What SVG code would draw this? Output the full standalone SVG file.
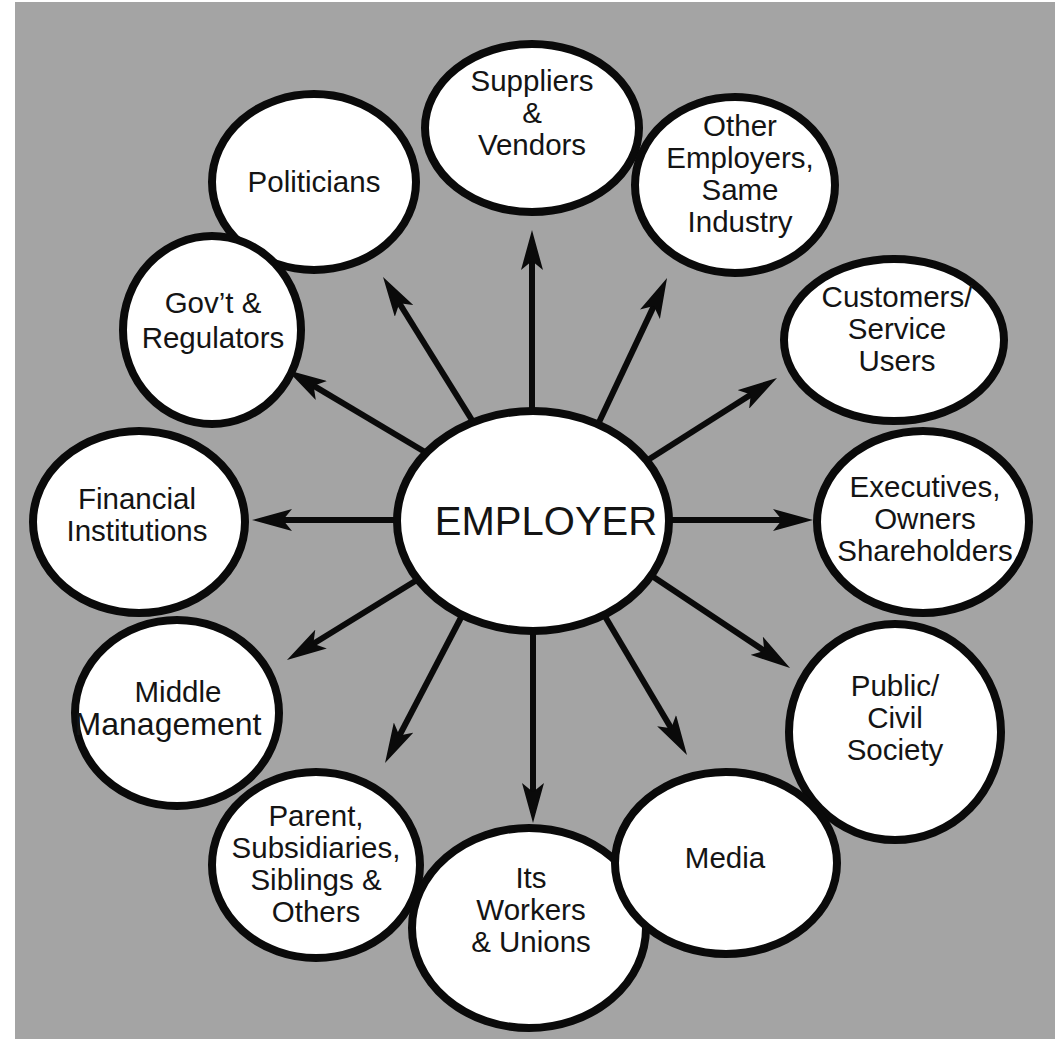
<svg xmlns="http://www.w3.org/2000/svg" width="1064" height="1039" viewBox="0 0 1064 1039">
<style>
.n{fill:#fff;stroke:#0a0a0a;stroke-width:8}
.t{font-family:"Liberation Sans",Arial,Helvetica,sans-serif;font-size:29.5px;fill:#141414;text-anchor:middle}
.big{font-size:40px}
.mm{font-size:32px}
.a{stroke:#0a0a0a;stroke-width:6;fill:none;marker-end:url(#ah)}
</style>
<defs>
<marker id="ah" viewBox="0 0 40 22" markerUnits="userSpaceOnUse" markerWidth="40" markerHeight="22" refX="20" refY="11" orient="auto">
<path d="M0,0 L40,11 L0,22 L9,11 Z" fill="#0a0a0a"/>
</marker>
</defs>
<rect x="0" y="0" width="1064" height="1039" fill="#fff"/>
<rect x="15" y="2" width="1040" height="1037" fill="#a4a4a4"/>
<g id="connectors">
<line class="a" x1="532" y1="430" x2="532" y2="250"/>
<line class="a" x1="480" y1="433" x2="393.6" y2="294"/>
<line class="a" x1="430" y1="455" x2="304.2" y2="380.2"/>
<line class="a" x1="410" y1="520" x2="272" y2="520"/>
<line class="a" x1="425" y1="575" x2="304" y2="649.5"/>
<line class="a" x1="466" y1="608" x2="394.3" y2="745.3"/>
<line class="a" x1="533" y1="615" x2="533" y2="803"/>
<line class="a" x1="600" y1="608" x2="676.8" y2="737.8"/>
<line class="a" x1="640" y1="568" x2="773.4" y2="656.9"/>
<line class="a" x1="655" y1="520" x2="793" y2="520"/>
<line class="a" x1="640" y1="465" x2="760.1" y2="388.7"/>
<line class="a" x1="592" y1="437" x2="658.5" y2="296.1"/>
</g>
<g id="employer">
<ellipse class="n" cx="533" cy="521" rx="136" ry="110" stroke-width="7"/>
<text class="t big" x="546" y="535">EMPLOYER</text>
</g>
<g id="suppliers">
<ellipse class="n" cx="532" cy="128" rx="107" ry="84"/>
<text class="t" x="532" y="91">Suppliers</text>
<text class="t" x="532" y="123">&amp;</text>
<text class="t" x="532" y="155">Vendors</text>
</g>
<g id="politicians">
<ellipse class="n" cx="314" cy="182" rx="102" ry="88"/>
<text class="t" x="314" y="192">Politicians</text>
</g>
<g id="other-employers">
<ellipse class="n" cx="735" cy="185" rx="100" ry="88"/>
<text class="t" x="740" y="136">Other</text>
<text class="t" x="740" y="168">Employers,</text>
<text class="t" x="740" y="200">Same</text>
<text class="t" x="740" y="232">Industry</text>
</g>
<g id="govt">
<ellipse class="n" cx="212" cy="330" rx="89" ry="94"/>
<text class="t" x="213" y="313">Gov’t &amp;</text>
<text class="t" x="213" y="348">Regulators</text>
</g>
<g id="customers">
<ellipse class="n" cx="894" cy="340" rx="110" ry="81"/>
<text class="t" x="897" y="307">Customers/</text>
<text class="t" x="897" y="339">Service</text>
<text class="t" x="897" y="371">Users</text>
</g>
<g id="financial">
<ellipse class="n" cx="139" cy="522" rx="106" ry="91"/>
<text class="t" x="137" y="509">Financial</text>
<text class="t" x="137" y="541">Institutions</text>
</g>
<g id="executives">
<ellipse class="n" cx="923" cy="522" rx="106" ry="91"/>
<text class="t" x="925" y="497">Executives,</text>
<text class="t" x="925" y="529">Owners</text>
<text class="t" x="925" y="561">Shareholders</text>
</g>
<g id="middle">
<ellipse class="n" cx="177" cy="713" rx="102" ry="93"/>
<text class="t" x="178" y="702">Middle</text>
<text class="t mm" x="168" y="735">Management</text>
</g>
<g id="public">
<ellipse class="n" cx="895" cy="732" rx="106" ry="108"/>
<text class="t" x="895" y="696">Public/</text>
<text class="t" x="895" y="728">Civil</text>
<text class="t" x="895" y="760">Society</text>
</g>
<g id="parent">
<ellipse class="n" cx="316" cy="865" rx="104" ry="93"/>
<text class="t" x="316" y="826">Parent,</text>
<text class="t" x="316" y="858">Subsidiaries,</text>
<text class="t" x="316" y="890">Siblings &amp;</text>
<text class="t" x="316" y="922">Others</text>
</g>
<g id="workers">
<ellipse class="n" cx="529" cy="928" rx="117" ry="100"/>
<text class="t" x="531" y="888">Its</text>
<text class="t" x="531" y="920">Workers</text>
<text class="t" x="531" y="952">&amp; Unions</text>
</g>
<g id="media">
<ellipse class="n" cx="726" cy="863" rx="111" ry="91"/>
<text class="t" x="725" y="868">Media</text>
</g>
</svg>
